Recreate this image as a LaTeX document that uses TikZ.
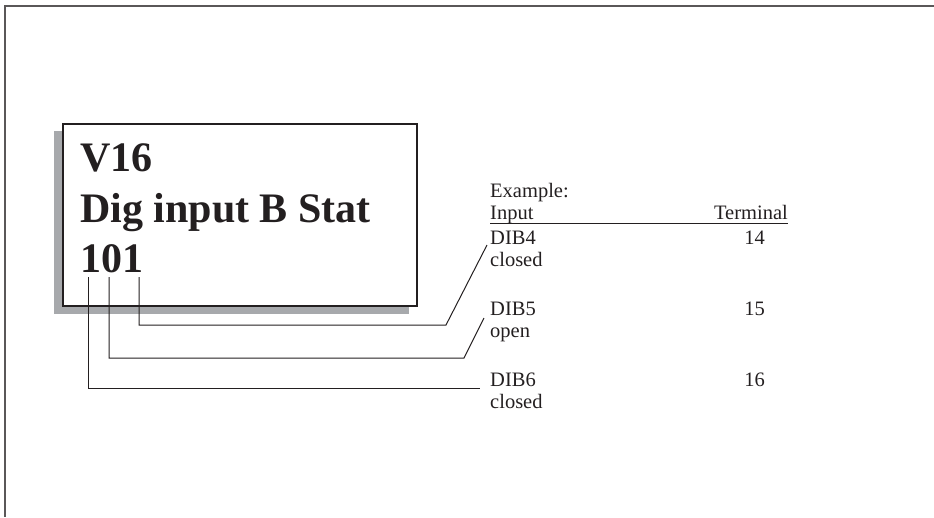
\documentclass[tikz,border=0pt]{standalone}
\usepackage{fontspec}
\setmainfont{Liberation Serif}
\usetikzlibrary{positioning,calc}
\definecolor{Ink}{HTML}{231F20}
\definecolor{Shade}{HTML}{A7A9AC}
\tikzset{
displaybox/.style={draw=Ink, line width=1.3pt, fill=white, minimum width=354pt, minimum height=182pt, inner sep=0pt},
displayshadow/.style={fill=Shade, minimum width=355pt, minimum height=183pt, inner sep=0pt},
displaytext/.style={anchor=base west, inner sep=0pt, text=Ink, font=\fontsize{42}{50}\selectfont\bfseries},
tabletext/.style={anchor=base west, inner sep=0pt, text=Ink, font=\fontsize{20.5}{24}\selectfont},
tablenum/.style={tabletext, anchor=base east},
leader/.style={draw=Ink, line width=1pt},
framerule/.style={draw=Ink!75, line width=2pt}
}
\begin{document}
\begin{tikzpicture}[x=1pt, y=-1pt]
  \useasboundingbox (0,0) rectangle (934,517);
  \draw[framerule] (934,5.5) -- (4.5,5.5) -- (4.5,517);
  \node[displayshadow] (shadow) at (231.5,222.5) {};
  \node[displaybox] (display) at (240,215) {};
  \node[displaytext] (param) at (80,171) {V16};
  \node[displaytext] (title) at (80,222) {Dig input B Stat};
  \node[displaytext] (value) at (80,272) {101};
  \node[tabletext] (example) at (490,197) {Example:};
  \node[tabletext] (input) at (490,219) {Input};
  \node[tablenum] (terminal) at (788,219) {Terminal};
  \node[tabletext] (dib4) at (490,244) {DIB4};
  \node[tablenum] (term14) at (765,244) {14};
  \node[tabletext] (state4) at (490,266) {closed};
  \node[tabletext] (dib5) at (490,315) {DIB5};
  \node[tablenum] (term15) at (765,315) {15};
  \node[tabletext] (state5) at (490,337) {open};
  \node[tabletext] (dib6) at (490,386) {DIB6};
  \node[tablenum] (term16) at (765,386) {16};
  \node[tabletext] (state6) at (490,408) {closed};
  \coordinate (bit4) at (139,277);
  \coordinate (bit5) at (109,277);
  \coordinate (bit6) at (88,277);
  \coordinate (bend4) at (446,325);
  \coordinate (bend5) at (464,358);
  \coordinate (bend6) at (480,388);
  \draw[leader] ([yshift=-4pt]input.base west) -- ([yshift=-4pt]terminal.base east);
  \draw[leader] (bit4) -- (bit4 |- bend4) -- (bend4) -- ([xshift=-3pt,yshift=-1pt]dib4.base west);
  \draw[leader] (bit5) -- (bit5 |- bend5) -- (bend5) -- ([xshift=-6pt,yshift=-3pt]dib5.base west);
  \draw[leader] (bit6) -- (bit6 |- bend6) -- (bend6);
\end{tikzpicture}
\end{document}
